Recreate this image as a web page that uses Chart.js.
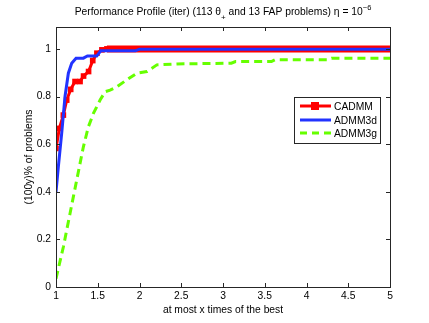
<!DOCTYPE html>
<html>
<head>
<meta charset="utf-8">
<script src="https://cdn.jsdelivr.net/npm/chart.js@4/dist/chart.umd.min.js"></script>
<style>
  html, body { margin: 0; padding: 0; background: #fff; }
</style>
</head>
<body>
<canvas id="perf" width="429" height="323"></canvas>
<script>
// values
var cadmmX = [1, 1.04, 1.088, 1.128, 1.176, 1.228, 1.288, 1.33, 1.39, 1.44, 1.49, 1.55, 1.61, 5];
var cadmmY = [0.582, 0.666, 0.722, 0.785, 0.83, 0.863, 0.863, 0.886, 0.905, 0.951, 0.982, 0.996, 1.0, 1.0];

var admm3dX = [1, 1.028, 1.068, 1.108, 1.148, 1.188, 1.24, 1.328, 1.376, 1.488, 1.536, 1.95, 2.0, 5];
var admm3dY = [0.40, 0.505, 0.645, 0.80, 0.898, 0.94, 0.961, 0.961, 0.97, 0.97, 0.992, 0.992, 0.999, 0.999];

var admm3gX = [1, 1.088, 1.168, 1.248, 1.328, 1.388, 1.448, 1.528, 1.588, 1.648, 1.728, 1.848, 1.968, 2.088, 2.208, 2.448, 3.1, 3.15, 3.58, 3.62, 4.25, 4.3, 5];
var admm3gY = [0.035, 0.168, 0.309, 0.449, 0.589, 0.673, 0.729, 0.785, 0.82, 0.827, 0.841, 0.87, 0.898, 0.905, 0.933, 0.937, 0.94, 0.947, 0.947, 0.954, 0.954, 0.961, 0.961];

var xTicks = [1, 1.5, 2, 2.5, 3, 3.5, 4, 4.5, 5];
var yTicks = [0, 0.2, 0.4, 0.6, 0.8, 1];

var seriesNames = ['CADMM', 'ADMM3d', 'ADMM3g'];
var seriesColors = ['#ff0000', '#2233ff', '#66ff00'];

var FONT = 'Liberation Sans, Arial, sans-serif';
var FS = 10.3;

function pts(xs, ys) {
    var out = [];
    for (var i in xs) {
        out.push({x: xs[i], y: ys[i]});
    }
    return out;
}

// title with subscript/superscript, box with inward ticks, legend
var decor = {
    id: 'decor',
    afterDraw: function(chart) {
        var ctx = chart.ctx;
        var a = chart.chartArea;
        var xs = chart.scales.x, ys = chart.scales.y;
        ctx.save();

        // box
        ctx.strokeStyle = '#262626';
        ctx.lineWidth = 1;
        ctx.strokeRect(Math.round(a.left) + 0.5, Math.round(a.top) + 0.5,
                       Math.round(a.right - a.left), Math.round(a.bottom - a.top));
        // inward ticks on all sides
        ctx.beginPath();
        xTicks.forEach(function(v) {
            var px = Math.round(xs.getPixelForValue(v)) + 0.5;
            ctx.moveTo(px, a.bottom); ctx.lineTo(px, a.bottom - 4);
            ctx.moveTo(px, a.top); ctx.lineTo(px, a.top + 4);
        });
        yTicks.forEach(function(v) {
            var py = Math.round(ys.getPixelForValue(v)) + 0.5;
            ctx.moveTo(a.left, py); ctx.lineTo(a.left + 4, py);
            ctx.moveTo(a.right, py); ctx.lineTo(a.right - 4, py);
        });
        ctx.stroke();

        // title
        ctx.fillStyle = '#000';
        ctx.textBaseline = 'alphabetic';
        ctx.textAlign = 'left';
        var parts = [
            {t: 'Performance Profile (iter) (113 \u03b8', s: FS, dy: 0},
            {t: '+', s: 8, dy: 5},
            {t: ' and 13 FAP problems) \u03b7 = 10', s: FS, dy: 0},
            {t: '\u22126', s: 7.5, dy: -5}
        ];
        var total = 0;
        parts.forEach(function(p) {
            ctx.font = p.s + 'px ' + FONT;
            p.w = ctx.measureText(p.t).width;
            total += p.w;
        });
        var tx = (a.left + a.right) / 2 - total / 2;
        parts.forEach(function(p) {
            ctx.font = p.s + 'px ' + FONT;
            ctx.fillText(p.t, tx, 15 + p.dy);
            tx += p.w;
        });

        // legend
        var lx = 294, ly = 97, lw = 86, lh = 46;
        ctx.fillStyle = '#fff';
        ctx.fillRect(lx, ly, lw, lh);
        ctx.strokeStyle = '#262626';
        ctx.lineWidth = 1;
        ctx.strokeRect(lx + 0.5, ly + 0.5, lw, lh);
        var rows = [106, 120, 133];
        ctx.font = FS + 'px ' + FONT;
        ctx.textBaseline = 'middle';
        for (var i = 0; i < 3; i++) {
            ctx.strokeStyle = seriesColors[i];
            ctx.lineWidth = 3;
            ctx.setLineDash(i == 2 ? [7, 5] : []);
            ctx.beginPath();
            ctx.moveTo(300, rows[i]); ctx.lineTo(331, rows[i]);
            ctx.stroke();
            ctx.setLineDash([]);
            if (i == 0) {
                ctx.fillStyle = seriesColors[0];
                ctx.fillRect(311, rows[i] - 4, 8, 8);
            }
            ctx.fillStyle = '#000';
            ctx.fillText(seriesNames[i], 334, rows[i] + 1);
        }
        ctx.restore();
    }
};

var fmt = function(v) { return String(v); };

var ctx = document.getElementById('perf');
var perfChart = new Chart(ctx, {
    type: 'line',
    data: {
        datasets: [
            {
                label: seriesNames[2],
                data: pts(admm3gX, admm3gY),
                borderColor: seriesColors[2],
                borderWidth: 3,
                borderDash: [8, 5],
                pointRadius: 0,
                order: 3
            },
            {
                label: seriesNames[0],
                data: pts(cadmmX, cadmmY),
                borderColor: seriesColors[0],
                backgroundColor: seriesColors[0],
                borderWidth: 3,
                pointStyle: 'rect',
                pointRadius: 4,
                pointBorderWidth: 0,
                segment: {
                    borderWidth: function(c) { return c.p0.parsed.y >= 0.999 && c.p1.parsed.y >= 0.999 ? 7 : 3; }
                },
                order: 2
            },
            {
                label: seriesNames[1],
                data: pts(admm3dX, admm3dY),
                borderColor: seriesColors[1],
                borderWidth: 3,
                pointRadius: 0,
                order: 1
            }
        ]
    },
    options: {
        responsive: false,
        animation: false,
        devicePixelRatio: 1,
        layout: { padding: { top: 27, right: 39, left: 0, bottom: 0 } },
        plugins: {
            legend: { display: false },
            tooltip: { enabled: false }
        },
        scales: {
            x: {
                type: 'linear',
                min: 1, max: 5,
                afterBuildTicks: function(s) { s.ticks = xTicks.map(function(v) { return {value: v}; }); },
                afterFit: function(s) { s.height = 36; },
                grid: { display: false, drawTicks: false },
                border: { display: false },
                ticks: { color: '#000', padding: 3, font: { family: FONT, size: FS }, maxRotation: 0, callback: fmt },
                title: { display: true, text: 'at most x times of the best', color: '#000', padding: { top: 0, bottom: 7 }, font: { family: FONT, size: FS } }
            },
            y: {
                min: 0, max: 1.092,
                afterBuildTicks: function(s) { s.ticks = yTicks.map(function(v) { return {value: v}; }); },
                afterFit: function(s) { s.width = 56; },
                grid: { display: false, drawTicks: false },
                border: { display: false },
                ticks: { color: '#000', padding: 5, font: { family: FONT, size: FS }, callback: fmt },
                title: { display: true, text: '(100y)% of problems', color: '#000', padding: { top: 23 }, font: { family: FONT, size: FS } }
            }
        }
    },
    plugins: [decor]
});
</script>
</body>
</html>
